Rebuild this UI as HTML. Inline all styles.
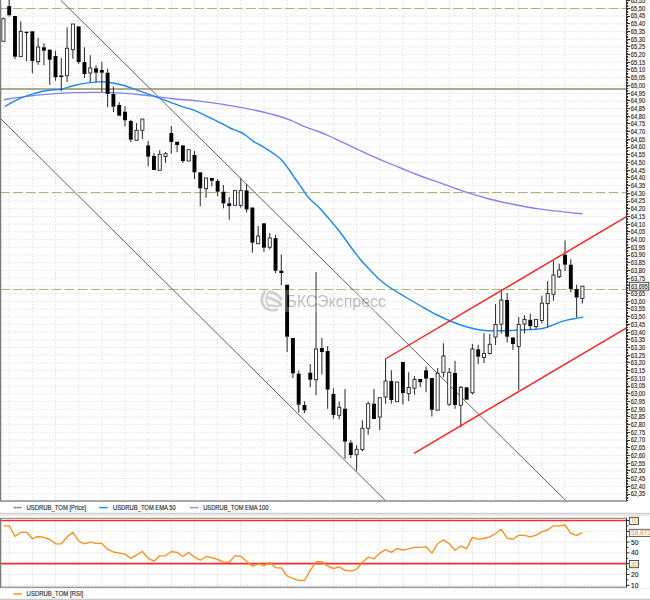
<!DOCTYPE html>
<html><head><meta charset="utf-8"><title>USDRUB_TOM</title>
<style>html,body{margin:0;padding:0;background:#fff;width:650px;height:600px;overflow:hidden;position:relative;font-family:"Liberation Sans",sans-serif}</style>
</head><body>
<svg width="650" height="600" viewBox="0 0 650 600" style="position:absolute;left:0;top:0">
<defs><clipPath id="cm"><rect x="0" y="0" width="626.5" height="501.0"/></clipPath>
<clipPath id="cr"><rect x="0" y="518" width="626.5" height="69"/></clipPath></defs>
<path d="M1 8.30H626.5M1 16.01H626.5M1 23.72H626.5M1 31.43H626.5M1 39.14H626.5M1 46.85H626.5M1 54.56H626.5M1 62.27H626.5M1 69.98H626.5M1 77.69H626.5M1 85.40H626.5M1 93.11H626.5M1 100.82H626.5M1 108.53H626.5M1 116.24H626.5M1 123.95H626.5M1 131.66H626.5M1 139.37H626.5M1 147.08H626.5M1 154.79H626.5M1 162.50H626.5M1 170.21H626.5M1 177.92H626.5M1 185.63H626.5M1 193.34H626.5M1 201.05H626.5M1 208.76H626.5M1 216.47H626.5M1 224.18H626.5M1 231.89H626.5M1 239.60H626.5M1 247.31H626.5M1 255.02H626.5M1 262.73H626.5M1 270.44H626.5M1 278.15H626.5M1 285.86H626.5M1 293.57H626.5M1 301.28H626.5M1 308.99H626.5M1 316.70H626.5M1 324.41H626.5M1 332.12H626.5M1 339.83H626.5M1 347.54H626.5M1 355.25H626.5M1 362.96H626.5M1 370.67H626.5M1 378.38H626.5M1 386.09H626.5M1 393.80H626.5M1 401.51H626.5M1 409.22H626.5M1 416.93H626.5M1 424.64H626.5M1 432.35H626.5M1 440.06H626.5M1 447.77H626.5M1 455.48H626.5M1 463.19H626.5M1 470.90H626.5M1 478.61H626.5M1 486.32H626.5M1 494.03H626.5" stroke="#e9e9e9" stroke-width="1" stroke-dasharray="2 1.2" fill="none"/>
<path d="M9.19 0V501.0M32.35 0V501.0M55.51 0V501.0M78.67 0V501.0M101.83 0V501.0M124.99 0V501.0M148.15 0V501.0M171.31 0V501.0M194.47 0V501.0M217.63 0V501.0M240.79 0V501.0M263.95 0V501.0M287.11 0V501.0M310.27 0V501.0M333.43 0V501.0M356.59 0V501.0M379.75 0V501.0M402.91 0V501.0M426.07 0V501.0M449.23 0V501.0M472.39 0V501.0M495.55 0V501.0M518.71 0V501.0M541.87 0V501.0M565.03 0V501.0" stroke="#e2e2e2" stroke-width="1" stroke-dasharray="1.6 1.6" fill="none"/>
<g clip-path="url(#cm)">
<path d="M0 8.5H626.5" stroke="#b5b176" stroke-width="1.15" stroke-dasharray="9.7 3.25" fill="none"/>
<path d="M0 89H626.5" stroke="#adab88" stroke-width="2" fill="none"/>
<path d="M0 192.5H626.5" stroke="#b5b176" stroke-width="1.15" stroke-dasharray="9.7 3.25" fill="none"/>
<path d="M0 289.5H626.5" stroke="#b5b176" stroke-width="1.15" stroke-dasharray="9.7 3.25" fill="none"/>
<path d="M60.6 0L565.7 500.5" stroke="#606060" stroke-width="1" fill="none"/>
<path d="M0 118L385.3 500.5" stroke="#606060" stroke-width="1" fill="none"/>
<path d="M3.70 99.60 C7.18 99.12 17.02 97.60 24.60 96.70 C32.18 95.80 41.00 94.87 49.20 94.20 C57.40 93.53 65.33 93.00 73.80 92.70 C82.27 92.40 92.05 92.32 100.00 92.40 C107.95 92.48 114.33 92.77 121.50 93.20 C128.67 93.63 136.53 94.33 143.00 95.00 C149.47 95.67 154.90 96.53 160.30 97.20 C165.70 97.87 169.30 98.38 175.40 99.00 C181.50 99.62 189.72 100.12 196.90 100.90 C204.08 101.68 211.68 102.70 218.50 103.70 C225.32 104.70 231.50 105.77 237.80 106.90 C244.10 108.03 249.27 108.90 256.30 110.50 C263.33 112.10 274.00 114.75 280.00 116.50 C286.00 118.25 288.20 119.32 292.30 121.00 C296.40 122.68 300.50 124.93 304.60 126.60 C308.70 128.27 312.80 129.43 316.90 131.00 C321.00 132.57 325.10 134.20 329.20 136.00 C333.30 137.80 337.40 139.87 341.50 141.80 C345.60 143.73 349.68 145.68 353.80 147.60 C357.92 149.52 362.08 151.43 366.20 153.30 C370.32 155.17 374.40 157.02 378.50 158.80 C382.60 160.58 386.70 162.30 390.80 164.00 C394.90 165.70 399.00 167.33 403.10 169.00 C407.20 170.67 411.30 172.40 415.40 174.00 C419.50 175.60 423.60 177.13 427.70 178.60 C431.80 180.07 433.85 180.62 440.00 182.80 C446.15 184.98 456.40 189.00 464.60 191.70 C472.80 194.40 481.00 196.87 489.20 199.00 C497.40 201.13 505.58 202.85 513.80 204.50 C522.02 206.15 530.30 207.68 538.50 208.90 C546.70 210.12 555.70 210.98 563.00 211.80 C570.30 212.62 579.08 213.47 582.30 213.80" stroke="#8282f2" stroke-width="1.35" fill="none" stroke-linejoin="round"/>
<path d="M4.90 106.50 C6.55 105.55 11.52 102.43 14.80 100.80 C18.08 99.17 20.92 98.05 24.60 96.70 C28.28 95.35 32.80 93.77 36.90 92.70 C41.00 91.63 45.10 90.90 49.20 90.30 C53.30 89.70 57.40 89.90 61.50 89.10 C65.60 88.30 69.68 86.50 73.80 85.50 C77.92 84.50 82.08 83.70 86.20 83.10 C90.32 82.50 94.82 82.05 98.50 81.90 C102.18 81.75 104.22 81.63 108.30 82.20 C112.38 82.77 118.08 83.95 123.00 85.30 C127.92 86.65 131.63 88.12 137.80 90.30 C143.97 92.48 152.72 95.73 160.00 98.40 C167.28 101.07 175.60 104.23 181.50 106.30 C187.40 108.37 190.78 108.95 195.40 110.80 C200.02 112.65 205.10 115.42 209.20 117.40 C213.30 119.38 216.53 120.93 220.00 122.70 C223.47 124.47 226.67 126.45 230.00 128.00 C233.33 129.55 237.22 130.67 240.00 132.00 C242.78 133.33 244.48 134.45 246.70 136.00 C248.92 137.55 250.42 139.42 253.30 141.30 C256.18 143.18 260.22 144.97 264.00 147.30 C267.78 149.63 272.88 152.97 276.00 155.30 C279.12 157.63 280.48 158.85 282.70 161.30 C284.92 163.75 287.30 167.22 289.30 170.00 C291.30 172.78 292.92 175.45 294.70 178.00 C296.48 180.55 297.78 182.13 300.00 185.30 C302.22 188.47 304.67 193.13 308.00 197.00 C311.33 200.87 316.33 204.67 320.00 208.50 C323.67 212.33 326.67 216.08 330.00 220.00 C333.33 223.92 336.67 227.67 340.00 232.00 C343.33 236.33 346.67 241.50 350.00 246.00 C353.33 250.50 356.67 255.00 360.00 259.00 C363.33 263.00 366.67 266.50 370.00 270.00 C373.33 273.50 376.67 277.08 380.00 280.00 C383.33 282.92 385.77 284.67 390.00 287.50 C394.23 290.33 400.27 293.92 405.40 297.00 C410.53 300.08 415.67 303.08 420.80 306.00 C425.93 308.92 431.08 311.92 436.20 314.50 C441.32 317.08 446.37 319.42 451.50 321.50 C456.63 323.58 461.87 325.55 467.00 327.00 C472.13 328.45 477.18 329.57 482.30 330.20 C487.42 330.83 492.58 330.77 497.70 330.80 C502.82 330.83 507.87 330.60 513.00 330.40 C518.13 330.20 524.67 329.80 528.50 329.60 C532.33 329.40 533.45 329.43 536.00 329.20 C538.55 328.97 541.22 328.82 543.80 328.20 C546.38 327.58 548.93 326.47 551.50 325.50 C554.07 324.53 556.63 323.30 559.20 322.40 C561.77 321.50 564.33 320.73 566.90 320.10 C569.47 319.47 571.88 319.07 574.60 318.60 C577.32 318.13 581.77 317.52 583.20 317.30" stroke="#1a8af0" stroke-width="1.4" fill="none" stroke-linejoin="round"/>
<path d="M3.40 17.5V18.7" stroke="#303030" stroke-width="1.05"/>
<rect x="1.85" y="18.7" width="3.1" height="22.6" fill="#fff" stroke="#222" stroke-width="0.9"/>
<path d="M9.19 -2.0V6.1" stroke="#303030" stroke-width="1.05"/>
<path d="M9.19 15.2V16.4" stroke="#303030" stroke-width="1.05"/>
<rect x="7.24" y="6.1" width="3.9" height="9.1" fill="#000"/>
<path d="M14.98 56.7V59.3" stroke="#303030" stroke-width="1.05"/>
<rect x="13.03" y="16.0" width="3.9" height="40.7" fill="#000"/>
<path d="M20.77 21.3V31.3" stroke="#303030" stroke-width="1.05"/>
<rect x="19.22" y="31.3" width="3.1" height="25.4" fill="#fff" stroke="#222" stroke-width="0.9"/>
<path d="M26.56 33.0V61.3" stroke="#303030" stroke-width="1.05"/>
<rect x="24.61" y="31.7" width="3.9" height="1.3" fill="#000"/>
<path d="M32.35 61.0V73.3" stroke="#303030" stroke-width="1.05"/>
<rect x="30.40" y="31.3" width="3.9" height="29.7" fill="#000"/>
<path d="M38.14 38.0V47.0" stroke="#303030" stroke-width="1.05"/>
<path d="M38.14 61.6V64.7" stroke="#303030" stroke-width="1.05"/>
<rect x="36.59" y="47.0" width="3.1" height="14.6" fill="#fff" stroke="#222" stroke-width="0.9"/>
<path d="M43.93 43.3V47.3" stroke="#303030" stroke-width="1.05"/>
<path d="M43.93 50.7V65.3" stroke="#303030" stroke-width="1.05"/>
<rect x="41.98" y="47.3" width="3.9" height="3.4" fill="#000"/>
<path d="M49.72 59.7V84.7" stroke="#303030" stroke-width="1.05"/>
<rect x="47.77" y="49.6" width="3.9" height="10.1" fill="#000"/>
<path d="M55.51 50.7V56.0" stroke="#303030" stroke-width="1.05"/>
<path d="M55.51 77.3V80.7" stroke="#303030" stroke-width="1.05"/>
<rect x="53.56" y="56.0" width="3.9" height="21.3" fill="#000"/>
<path d="M61.30 58.0V75.5" stroke="#303030" stroke-width="1.05"/>
<path d="M61.30 77.0V91.3" stroke="#303030" stroke-width="1.05"/>
<rect x="59.35" y="75.5" width="3.9" height="1.5" fill="#000"/>
<path d="M67.09 27.3V48.3" stroke="#303030" stroke-width="1.05"/>
<path d="M67.09 75.7V82.0" stroke="#303030" stroke-width="1.05"/>
<rect x="65.54" y="48.3" width="3.1" height="27.4" fill="#fff" stroke="#222" stroke-width="0.9"/>
<path d="M72.88 49.7V58.7" stroke="#303030" stroke-width="1.05"/>
<rect x="71.33" y="24.0" width="3.1" height="25.7" fill="#fff" stroke="#222" stroke-width="0.9"/>
<path d="M78.67 62.0V64.0" stroke="#303030" stroke-width="1.05"/>
<rect x="76.72" y="26.4" width="3.9" height="35.6" fill="#000"/>
<path d="M84.46 47.3V62.0" stroke="#303030" stroke-width="1.05"/>
<path d="M84.46 74.0V78.0" stroke="#303030" stroke-width="1.05"/>
<rect x="82.51" y="62.0" width="3.9" height="12.0" fill="#000"/>
<path d="M90.25 55.3V68.0" stroke="#303030" stroke-width="1.05"/>
<path d="M90.25 73.0V82.0" stroke="#303030" stroke-width="1.05"/>
<rect x="88.70" y="68.0" width="3.1" height="5.0" fill="#fff" stroke="#222" stroke-width="0.9"/>
<path d="M96.04 65.3V68.3" stroke="#303030" stroke-width="1.05"/>
<path d="M96.04 72.7V82.4" stroke="#303030" stroke-width="1.05"/>
<rect x="94.09" y="68.3" width="3.9" height="4.4" fill="#000"/>
<path d="M101.83 62.0V70.0" stroke="#303030" stroke-width="1.05"/>
<path d="M101.83 72.7V92.0" stroke="#303030" stroke-width="1.05"/>
<rect x="99.88" y="70.0" width="3.9" height="2.7" fill="#000"/>
<path d="M107.62 68.7V72.7" stroke="#303030" stroke-width="1.05"/>
<path d="M107.62 94.0V107.3" stroke="#303030" stroke-width="1.05"/>
<rect x="105.67" y="72.7" width="3.9" height="21.3" fill="#000"/>
<path d="M113.41 86.7V94.0" stroke="#303030" stroke-width="1.05"/>
<path d="M113.41 106.7V112.0" stroke="#303030" stroke-width="1.05"/>
<rect x="111.46" y="94.0" width="3.9" height="12.7" fill="#000"/>
<path d="M119.20 102.3V105.0" stroke="#303030" stroke-width="1.05"/>
<rect x="117.25" y="105.0" width="3.9" height="10.7" fill="#000"/>
<path d="M124.99 106.3V111.7" stroke="#303030" stroke-width="1.05"/>
<path d="M124.99 120.3V126.3" stroke="#303030" stroke-width="1.05"/>
<rect x="123.04" y="111.7" width="3.9" height="8.6" fill="#000"/>
<path d="M130.78 119.7V121.0" stroke="#303030" stroke-width="1.05"/>
<path d="M130.78 139.7V142.3" stroke="#303030" stroke-width="1.05"/>
<rect x="128.83" y="121.0" width="3.9" height="18.7" fill="#000"/>
<path d="M136.57 123.0V130.3" stroke="#303030" stroke-width="1.05"/>
<rect x="135.02" y="130.3" width="3.1" height="10.0" fill="#fff" stroke="#222" stroke-width="0.9"/>
<path d="M142.36 130.3V139.0" stroke="#303030" stroke-width="1.05"/>
<rect x="140.81" y="119.0" width="3.1" height="11.3" fill="#fff" stroke="#222" stroke-width="0.9"/>
<path d="M148.15 141.0V145.4" stroke="#303030" stroke-width="1.05"/>
<path d="M148.15 156.6V166.3" stroke="#303030" stroke-width="1.05"/>
<rect x="146.20" y="145.4" width="3.9" height="11.2" fill="#000"/>
<path d="M153.94 153.0V156.0" stroke="#303030" stroke-width="1.05"/>
<rect x="151.99" y="156.0" width="3.9" height="14.0" fill="#000"/>
<path d="M159.73 150.3V154.3" stroke="#303030" stroke-width="1.05"/>
<rect x="158.18" y="154.3" width="3.1" height="16.0" fill="#fff" stroke="#222" stroke-width="0.9"/>
<path d="M165.52 152.0V153.7" stroke="#303030" stroke-width="1.05"/>
<path d="M165.52 156.6V163.0" stroke="#303030" stroke-width="1.05"/>
<rect x="163.97" y="153.7" width="3.1" height="2.9" fill="#fff" stroke="#222" stroke-width="0.9"/>
<path d="M171.31 126.0V133.0" stroke="#303030" stroke-width="1.05"/>
<path d="M171.31 142.0V153.7" stroke="#303030" stroke-width="1.05"/>
<rect x="169.36" y="133.0" width="3.9" height="9.0" fill="#000"/>
<path d="M177.10 145.0V152.3" stroke="#303030" stroke-width="1.05"/>
<rect x="175.15" y="141.7" width="3.9" height="3.3" fill="#000"/>
<path d="M182.89 161.0V163.0" stroke="#303030" stroke-width="1.05"/>
<rect x="180.94" y="145.4" width="3.9" height="15.6" fill="#000"/>
<rect x="187.13" y="149.7" width="3.1" height="11.3" fill="#fff" stroke="#222" stroke-width="0.9"/>
<path d="M194.47 151.0V155.0" stroke="#303030" stroke-width="1.05"/>
<path d="M194.47 172.3V179.0" stroke="#303030" stroke-width="1.05"/>
<rect x="192.52" y="155.0" width="3.9" height="17.3" fill="#000"/>
<path d="M200.26 188.3V206.3" stroke="#303030" stroke-width="1.05"/>
<rect x="198.31" y="172.3" width="3.9" height="16.0" fill="#000"/>
<path d="M206.05 188.7V197.7" stroke="#303030" stroke-width="1.05"/>
<rect x="204.50" y="178.0" width="3.1" height="10.7" fill="#fff" stroke="#222" stroke-width="0.9"/>
<path d="M211.84 180.7V186.3" stroke="#303030" stroke-width="1.05"/>
<rect x="209.89" y="178.0" width="3.9" height="2.7" fill="#000"/>
<path d="M217.63 179.0V181.0" stroke="#303030" stroke-width="1.05"/>
<path d="M217.63 191.7V196.3" stroke="#303030" stroke-width="1.05"/>
<rect x="215.68" y="181.0" width="3.9" height="10.7" fill="#000"/>
<path d="M223.42 185.0V191.7" stroke="#303030" stroke-width="1.05"/>
<path d="M223.42 203.4V208.3" stroke="#303030" stroke-width="1.05"/>
<rect x="221.47" y="191.7" width="3.9" height="11.7" fill="#000"/>
<path d="M229.21 197.0V203.3" stroke="#303030" stroke-width="1.05"/>
<path d="M229.21 206.0V219.7" stroke="#303030" stroke-width="1.05"/>
<rect x="227.26" y="203.3" width="3.9" height="2.7" fill="#000"/>
<rect x="233.45" y="190.6" width="3.1" height="14.7" fill="#fff" stroke="#222" stroke-width="0.9"/>
<path d="M240.79 178.3V190.6" stroke="#303030" stroke-width="1.05"/>
<path d="M240.79 205.3V207.7" stroke="#303030" stroke-width="1.05"/>
<rect x="239.24" y="190.6" width="3.1" height="14.7" fill="#fff" stroke="#222" stroke-width="0.9"/>
<path d="M246.58 184.3V190.3" stroke="#303030" stroke-width="1.05"/>
<path d="M246.58 209.5V212.5" stroke="#303030" stroke-width="1.05"/>
<rect x="244.63" y="190.3" width="3.9" height="19.2" fill="#000"/>
<path d="M252.37 242.7V252.7" stroke="#303030" stroke-width="1.05"/>
<rect x="250.42" y="207.5" width="3.9" height="35.2" fill="#000"/>
<path d="M258.16 226.0V236.0" stroke="#303030" stroke-width="1.05"/>
<rect x="256.61" y="236.0" width="3.1" height="7.7" fill="#fff" stroke="#222" stroke-width="0.9"/>
<path d="M263.95 247.7V252.0" stroke="#303030" stroke-width="1.05"/>
<rect x="262.00" y="223.3" width="3.9" height="24.4" fill="#000"/>
<path d="M269.74 233.0V238.0" stroke="#303030" stroke-width="1.05"/>
<path d="M269.74 247.3V249.6" stroke="#303030" stroke-width="1.05"/>
<rect x="268.19" y="238.0" width="3.1" height="9.3" fill="#fff" stroke="#222" stroke-width="0.9"/>
<path d="M275.53 234.7V238.0" stroke="#303030" stroke-width="1.05"/>
<path d="M275.53 270.7V273.3" stroke="#303030" stroke-width="1.05"/>
<rect x="273.58" y="238.0" width="3.9" height="32.7" fill="#000"/>
<path d="M281.32 254.4V270.7" stroke="#303030" stroke-width="1.05"/>
<path d="M281.32 273.0V285.3" stroke="#303030" stroke-width="1.05"/>
<rect x="279.37" y="270.7" width="3.9" height="2.3" fill="#000"/>
<path d="M287.11 336.7V352.0" stroke="#303030" stroke-width="1.05"/>
<rect x="285.16" y="284.7" width="3.9" height="52.0" fill="#000"/>
<path d="M292.90 373.3V378.0" stroke="#303030" stroke-width="1.05"/>
<rect x="290.95" y="338.0" width="3.9" height="35.3" fill="#000"/>
<path d="M298.69 370.4V373.6" stroke="#303030" stroke-width="1.05"/>
<path d="M298.69 404.7V412.7" stroke="#303030" stroke-width="1.05"/>
<rect x="296.74" y="373.6" width="3.9" height="31.1" fill="#000"/>
<path d="M304.48 401.3V405.0" stroke="#303030" stroke-width="1.05"/>
<path d="M304.48 410.4V413.0" stroke="#303030" stroke-width="1.05"/>
<rect x="302.53" y="405.0" width="3.9" height="5.4" fill="#000"/>
<path d="M310.27 364.0V372.7" stroke="#303030" stroke-width="1.05"/>
<path d="M310.27 379.7V387.3" stroke="#303030" stroke-width="1.05"/>
<rect x="308.32" y="372.7" width="3.9" height="7.0" fill="#000"/>
<path d="M316.06 272.0V349.0" stroke="#303030" stroke-width="1.05"/>
<path d="M316.06 379.7V395.3" stroke="#303030" stroke-width="1.05"/>
<rect x="314.51" y="349.0" width="3.1" height="30.7" fill="#fff" stroke="#222" stroke-width="0.9"/>
<path d="M321.85 338.0V348.0" stroke="#303030" stroke-width="1.05"/>
<path d="M321.85 352.0V374.4" stroke="#303030" stroke-width="1.05"/>
<rect x="319.90" y="348.0" width="3.9" height="4.0" fill="#000"/>
<path d="M327.64 346.0V351.0" stroke="#303030" stroke-width="1.05"/>
<path d="M327.64 389.6V408.7" stroke="#303030" stroke-width="1.05"/>
<rect x="325.69" y="351.0" width="3.9" height="38.6" fill="#000"/>
<path d="M333.43 388.3V394.0" stroke="#303030" stroke-width="1.05"/>
<path d="M333.43 415.0V418.7" stroke="#303030" stroke-width="1.05"/>
<rect x="331.48" y="394.0" width="3.9" height="21.0" fill="#000"/>
<path d="M339.22 401.6V407.3" stroke="#303030" stroke-width="1.05"/>
<path d="M339.22 415.3V419.3" stroke="#303030" stroke-width="1.05"/>
<rect x="337.67" y="407.3" width="3.1" height="8.0" fill="#fff" stroke="#222" stroke-width="0.9"/>
<path d="M345.01 389.0V408.7" stroke="#303030" stroke-width="1.05"/>
<path d="M345.01 441.6V458.7" stroke="#303030" stroke-width="1.05"/>
<rect x="343.06" y="408.7" width="3.9" height="32.9" fill="#000"/>
<path d="M350.80 440.3V442.7" stroke="#303030" stroke-width="1.05"/>
<path d="M350.80 455.0V458.0" stroke="#303030" stroke-width="1.05"/>
<rect x="348.85" y="442.7" width="3.9" height="12.3" fill="#000"/>
<path d="M356.59 445.3V449.3" stroke="#303030" stroke-width="1.05"/>
<path d="M356.59 454.7V470.7" stroke="#303030" stroke-width="1.05"/>
<rect x="355.04" y="449.3" width="3.1" height="5.4" fill="#fff" stroke="#222" stroke-width="0.9"/>
<path d="M362.38 420.3V428.3" stroke="#303030" stroke-width="1.05"/>
<path d="M362.38 449.6V451.3" stroke="#303030" stroke-width="1.05"/>
<rect x="360.83" y="428.3" width="3.1" height="21.3" fill="#fff" stroke="#222" stroke-width="0.9"/>
<path d="M368.17 401.6V403.7" stroke="#303030" stroke-width="1.05"/>
<path d="M368.17 428.3V434.7" stroke="#303030" stroke-width="1.05"/>
<rect x="366.62" y="403.7" width="3.1" height="24.6" fill="#fff" stroke="#222" stroke-width="0.9"/>
<path d="M373.96 389.0V403.7" stroke="#303030" stroke-width="1.05"/>
<rect x="372.01" y="403.7" width="3.9" height="15.3" fill="#000"/>
<path d="M379.75 417.0V430.0" stroke="#303030" stroke-width="1.05"/>
<rect x="378.20" y="397.7" width="3.1" height="19.3" fill="#fff" stroke="#222" stroke-width="0.9"/>
<path d="M385.54 359.0V381.0" stroke="#303030" stroke-width="1.05"/>
<path d="M385.54 397.0V403.7" stroke="#303030" stroke-width="1.05"/>
<rect x="383.99" y="381.0" width="3.1" height="16.0" fill="#fff" stroke="#222" stroke-width="0.9"/>
<path d="M391.33 370.3V381.0" stroke="#303030" stroke-width="1.05"/>
<path d="M391.33 400.0V403.7" stroke="#303030" stroke-width="1.05"/>
<rect x="389.38" y="381.0" width="3.9" height="19.0" fill="#000"/>
<rect x="395.57" y="382.0" width="3.1" height="19.7" fill="#fff" stroke="#222" stroke-width="0.9"/>
<path d="M402.91 393.0V404.5" stroke="#303030" stroke-width="1.05"/>
<rect x="400.96" y="362.0" width="3.9" height="31.0" fill="#000"/>
<path d="M408.70 372.3V387.4" stroke="#303030" stroke-width="1.05"/>
<path d="M408.70 393.5V401.0" stroke="#303030" stroke-width="1.05"/>
<rect x="407.15" y="387.4" width="3.1" height="6.1" fill="#fff" stroke="#222" stroke-width="0.9"/>
<path d="M414.49 376.0V379.4" stroke="#303030" stroke-width="1.05"/>
<path d="M414.49 388.2V394.7" stroke="#303030" stroke-width="1.05"/>
<rect x="412.94" y="379.4" width="3.1" height="8.8" fill="#fff" stroke="#222" stroke-width="0.9"/>
<path d="M420.28 382.3V387.0" stroke="#303030" stroke-width="1.05"/>
<rect x="418.33" y="379.0" width="3.9" height="3.3" fill="#000"/>
<path d="M426.07 366.6V370.3" stroke="#303030" stroke-width="1.05"/>
<path d="M426.07 378.6V392.2" stroke="#303030" stroke-width="1.05"/>
<rect x="424.12" y="370.3" width="3.9" height="8.3" fill="#000"/>
<path d="M431.86 409.8V416.5" stroke="#303030" stroke-width="1.05"/>
<rect x="429.91" y="378.0" width="3.9" height="31.8" fill="#000"/>
<path d="M437.65 368.0V373.2" stroke="#303030" stroke-width="1.05"/>
<rect x="436.10" y="373.2" width="3.1" height="37.0" fill="#fff" stroke="#222" stroke-width="0.9"/>
<path d="M443.44 343.3V356.0" stroke="#303030" stroke-width="1.05"/>
<path d="M443.44 372.3V377.3" stroke="#303030" stroke-width="1.05"/>
<rect x="441.89" y="356.0" width="3.1" height="16.3" fill="#fff" stroke="#222" stroke-width="0.9"/>
<path d="M449.23 368.0V372.3" stroke="#303030" stroke-width="1.05"/>
<path d="M449.23 404.3V406.0" stroke="#303030" stroke-width="1.05"/>
<rect x="447.68" y="372.3" width="3.1" height="32.0" fill="#fff" stroke="#222" stroke-width="0.9"/>
<path d="M455.02 360.7V373.0" stroke="#303030" stroke-width="1.05"/>
<path d="M455.02 405.0V408.7" stroke="#303030" stroke-width="1.05"/>
<rect x="453.07" y="373.0" width="3.9" height="32.0" fill="#000"/>
<path d="M460.81 386.0V387.3" stroke="#303030" stroke-width="1.05"/>
<path d="M460.81 405.3V427.3" stroke="#303030" stroke-width="1.05"/>
<rect x="459.26" y="387.3" width="3.1" height="18.0" fill="#fff" stroke="#222" stroke-width="0.9"/>
<rect x="464.65" y="387.3" width="3.9" height="12.4" fill="#000"/>
<path d="M472.39 344.0V349.0" stroke="#303030" stroke-width="1.05"/>
<path d="M472.39 392.7V394.5" stroke="#303030" stroke-width="1.05"/>
<rect x="470.84" y="349.0" width="3.1" height="43.7" fill="#fff" stroke="#222" stroke-width="0.9"/>
<path d="M478.18 344.7V349.3" stroke="#303030" stroke-width="1.05"/>
<path d="M478.18 356.7V364.3" stroke="#303030" stroke-width="1.05"/>
<rect x="476.23" y="349.3" width="3.9" height="7.4" fill="#000"/>
<path d="M483.97 333.3V353.5" stroke="#303030" stroke-width="1.05"/>
<path d="M483.97 357.5V363.0" stroke="#303030" stroke-width="1.05"/>
<rect x="482.42" y="353.5" width="3.1" height="4.0" fill="#fff" stroke="#222" stroke-width="0.9"/>
<path d="M489.76 334.0V344.3" stroke="#303030" stroke-width="1.05"/>
<path d="M489.76 353.6V354.6" stroke="#303030" stroke-width="1.05"/>
<rect x="488.21" y="344.3" width="3.1" height="9.3" fill="#fff" stroke="#222" stroke-width="0.9"/>
<path d="M495.55 304.0V324.4" stroke="#303030" stroke-width="1.05"/>
<path d="M495.55 337.0V345.0" stroke="#303030" stroke-width="1.05"/>
<rect x="494.00" y="324.4" width="3.1" height="12.6" fill="#fff" stroke="#222" stroke-width="0.9"/>
<path d="M501.34 291.0V300.0" stroke="#303030" stroke-width="1.05"/>
<path d="M501.34 324.2V333.5" stroke="#303030" stroke-width="1.05"/>
<rect x="499.79" y="300.0" width="3.1" height="24.2" fill="#fff" stroke="#222" stroke-width="0.9"/>
<path d="M507.13 293.0V300.0" stroke="#303030" stroke-width="1.05"/>
<path d="M507.13 336.7V342.5" stroke="#303030" stroke-width="1.05"/>
<rect x="505.18" y="300.0" width="3.9" height="36.7" fill="#000"/>
<path d="M512.92 344.0V350.0" stroke="#303030" stroke-width="1.05"/>
<rect x="510.97" y="337.5" width="3.9" height="6.5" fill="#000"/>
<path d="M518.71 317.0V324.4" stroke="#303030" stroke-width="1.05"/>
<path d="M518.71 346.5V390.0" stroke="#303030" stroke-width="1.05"/>
<rect x="517.16" y="324.4" width="3.1" height="22.1" fill="#fff" stroke="#222" stroke-width="0.9"/>
<path d="M524.50 315.2V319.5" stroke="#303030" stroke-width="1.05"/>
<path d="M524.50 324.1V333.5" stroke="#303030" stroke-width="1.05"/>
<rect x="522.95" y="319.5" width="3.1" height="4.6" fill="#fff" stroke="#222" stroke-width="0.9"/>
<path d="M530.29 313.8V319.8" stroke="#303030" stroke-width="1.05"/>
<path d="M530.29 326.2V330.0" stroke="#303030" stroke-width="1.05"/>
<rect x="528.34" y="319.8" width="3.9" height="6.4" fill="#000"/>
<path d="M536.08 326.6V328.8" stroke="#303030" stroke-width="1.05"/>
<rect x="534.53" y="319.4" width="3.1" height="7.2" fill="#fff" stroke="#222" stroke-width="0.9"/>
<path d="M541.87 295.8V303.2" stroke="#303030" stroke-width="1.05"/>
<path d="M541.87 320.5V323.2" stroke="#303030" stroke-width="1.05"/>
<rect x="540.32" y="303.2" width="3.1" height="17.3" fill="#fff" stroke="#222" stroke-width="0.9"/>
<path d="M547.66 281.0V293.4" stroke="#303030" stroke-width="1.05"/>
<path d="M547.66 303.6V327.4" stroke="#303030" stroke-width="1.05"/>
<rect x="546.11" y="293.4" width="3.1" height="10.2" fill="#fff" stroke="#222" stroke-width="0.9"/>
<path d="M553.45 260.7V275.0" stroke="#303030" stroke-width="1.05"/>
<path d="M553.45 294.3V300.7" stroke="#303030" stroke-width="1.05"/>
<rect x="551.90" y="275.0" width="3.1" height="19.3" fill="#fff" stroke="#222" stroke-width="0.9"/>
<path d="M559.24 263.7V270.0" stroke="#303030" stroke-width="1.05"/>
<path d="M559.24 276.7V278.0" stroke="#303030" stroke-width="1.05"/>
<rect x="557.69" y="270.0" width="3.1" height="6.7" fill="#fff" stroke="#222" stroke-width="0.9"/>
<path d="M565.03 240.5V254.7" stroke="#303030" stroke-width="1.05"/>
<path d="M565.03 264.7V271.3" stroke="#303030" stroke-width="1.05"/>
<rect x="563.08" y="254.7" width="3.9" height="10.0" fill="#000"/>
<path d="M570.82 259.3V264.7" stroke="#303030" stroke-width="1.05"/>
<path d="M570.82 289.0V292.3" stroke="#303030" stroke-width="1.05"/>
<rect x="568.87" y="264.7" width="3.9" height="24.3" fill="#000"/>
<path d="M576.61 284.8V289.0" stroke="#303030" stroke-width="1.05"/>
<path d="M576.61 297.5V317.5" stroke="#303030" stroke-width="1.05"/>
<rect x="574.66" y="289.0" width="3.9" height="8.5" fill="#000"/>
<path d="M582.40 298.5V303.5" stroke="#303030" stroke-width="1.05"/>
<rect x="580.85" y="286.2" width="3.1" height="12.3" fill="#fff" stroke="#222" stroke-width="0.9"/>
<path d="M385.3 359L626.5 216.7" stroke="#ff2020" stroke-width="1.45" fill="none"/>
<path d="M414 453.3L626.5 327.9" stroke="#ff2020" stroke-width="1.45" fill="none"/>
</g>
<defs><mask id="wm"><rect x="0" y="0" width="650" height="600" fill="#fff"/><text x="286.2" y="306.5" font-family="Liberation Sans" font-size="17" fill="#000" stroke="#000" stroke-width="0.12" textLength="99.8" lengthAdjust="spacingAndGlyphs">БКСЭкспресс</text></mask></defs>
<rect x="258" y="289.8" width="131" height="22.2" fill="#fff" opacity="0.25" mask="url(#wm)"/>
<g fill="none" stroke="#000" stroke-opacity="0.17" stroke-linecap="round">
<path d="M264.6 291.8 C260.6 296.5 260.6 304 266 308.4 C269.3 310.6 273.5 310.8 277 309.6" stroke-width="2.8"/>
<path d="M268.4 292 C265.4 296.6 265.2 302.6 269.2 306.6" stroke-width="2.2"/>
<path d="M270.8 292 C274.8 293.2 278.8 295.6 281.2 299" stroke-width="3.2"/>
<path d="M268.8 297.8 C273.2 299.2 277.6 301.2 281 304.2" stroke-width="3.2"/>
<path d="M270.4 305 C273.8 306.2 277.2 306.4 280.2 305.6" stroke-width="2.4"/>
</g>
<text x="286.2" y="306.5" font-family="Liberation Sans" font-size="17" fill="#000" fill-opacity="0.27" stroke="#000" stroke-opacity="0.27" stroke-width="0.12" textLength="99.8" lengthAdjust="spacingAndGlyphs">БКСЭкспресс</text>
<path d="M0.6 0V501.0" stroke="#7a7a7a" stroke-width="1.3"/>
<path d="M0 501.0H627.0" stroke="#8a8a8a" stroke-width="1.3"/>
<path d="M626.5 0V501.0" stroke="#333" stroke-width="1"/>
<path d="M626.5 0.50h3.6M626.5 2.50h1.7M626.5 3.50h1.7M626.5 5.50h1.7M626.5 6.50h1.7M626.5 8.50h3.6M626.5 9.50h1.7M626.5 11.50h1.7M626.5 12.50h1.7M626.5 14.50h1.7M626.5 16.50h3.6M626.5 17.50h1.7M626.5 19.50h1.7M626.5 20.50h1.7M626.5 22.50h1.7M626.5 23.50h3.6M626.5 25.50h1.7M626.5 26.50h1.7M626.5 28.50h1.7M626.5 29.50h1.7M626.5 31.50h3.6M626.5 32.50h1.7M626.5 34.50h1.7M626.5 36.50h1.7M626.5 37.50h1.7M626.5 39.50h3.6M626.5 40.50h1.7M626.5 42.50h1.7M626.5 43.50h1.7M626.5 45.50h1.7M626.5 46.50h3.6M626.5 48.50h1.7M626.5 49.50h1.7M626.5 51.50h1.7M626.5 53.50h1.7M626.5 54.50h3.6M626.5 56.50h1.7M626.5 57.50h1.7M626.5 59.50h1.7M626.5 60.50h1.7M626.5 62.50h3.6M626.5 63.50h1.7M626.5 65.50h1.7M626.5 66.50h1.7M626.5 68.50h1.7M626.5 69.50h3.6M626.5 71.50h1.7M626.5 73.50h1.7M626.5 74.50h1.7M626.5 76.50h1.7M626.5 77.50h3.6M626.5 79.50h1.7M626.5 80.50h1.7M626.5 82.50h1.7M626.5 83.50h1.7M626.5 85.50h3.6M626.5 86.50h1.7M626.5 88.50h1.7M626.5 90.50h1.7M626.5 91.50h1.7M626.5 93.50h3.6M626.5 94.50h1.7M626.5 96.50h1.7M626.5 97.50h1.7M626.5 99.50h1.7M626.5 100.50h3.6M626.5 102.50h1.7M626.5 103.50h1.7M626.5 105.50h1.7M626.5 106.50h1.7M626.5 108.50h3.6M626.5 110.50h1.7M626.5 111.50h1.7M626.5 113.50h1.7M626.5 114.50h1.7M626.5 116.50h3.6M626.5 117.50h1.7M626.5 119.50h1.7M626.5 120.50h1.7M626.5 122.50h1.7M626.5 123.50h3.6M626.5 125.50h1.7M626.5 127.50h1.7M626.5 128.50h1.7M626.5 130.50h1.7M626.5 131.50h3.6M626.5 133.50h1.7M626.5 134.50h1.7M626.5 136.50h1.7M626.5 137.50h1.7M626.5 139.50h3.6M626.5 140.50h1.7M626.5 142.50h1.7M626.5 143.50h1.7M626.5 145.50h1.7M626.5 147.50h3.6M626.5 148.50h1.7M626.5 150.50h1.7M626.5 151.50h1.7M626.5 153.50h1.7M626.5 154.50h3.6M626.5 156.50h1.7M626.5 157.50h1.7M626.5 159.50h1.7M626.5 160.50h1.7M626.5 162.50h3.6M626.5 164.50h1.7M626.5 165.50h1.7M626.5 167.50h1.7M626.5 168.50h1.7M626.5 170.50h3.6M626.5 171.50h1.7M626.5 173.50h1.7M626.5 174.50h1.7M626.5 176.50h1.7M626.5 177.50h3.6M626.5 179.50h1.7M626.5 181.50h1.7M626.5 182.50h1.7M626.5 184.50h1.7M626.5 185.50h3.6M626.5 187.50h1.7M626.5 188.50h1.7M626.5 190.50h1.7M626.5 191.50h1.7M626.5 193.50h3.6M626.5 194.50h1.7M626.5 196.50h1.7M626.5 197.50h1.7M626.5 199.50h1.7M626.5 201.50h3.6M626.5 202.50h1.7M626.5 204.50h1.7M626.5 205.50h1.7M626.5 207.50h1.7M626.5 208.50h3.6M626.5 210.50h1.7M626.5 211.50h1.7M626.5 213.50h1.7M626.5 214.50h1.7M626.5 216.50h3.6M626.5 218.50h1.7M626.5 219.50h1.7M626.5 221.50h1.7M626.5 222.50h1.7M626.5 224.50h3.6M626.5 225.50h1.7M626.5 227.50h1.7M626.5 228.50h1.7M626.5 230.50h1.7M626.5 231.50h3.6M626.5 233.50h1.7M626.5 234.50h1.7M626.5 236.50h1.7M626.5 238.50h1.7M626.5 239.50h3.6M626.5 241.50h1.7M626.5 242.50h1.7M626.5 244.50h1.7M626.5 245.50h1.7M626.5 247.50h3.6M626.5 248.50h1.7M626.5 250.50h1.7M626.5 251.50h1.7M626.5 253.50h1.7M626.5 255.50h3.6M626.5 256.50h1.7M626.5 258.50h1.7M626.5 259.50h1.7M626.5 261.50h1.7M626.5 262.50h3.6M626.5 264.50h1.7M626.5 265.50h1.7M626.5 267.50h1.7M626.5 268.50h1.7M626.5 270.50h3.6M626.5 271.50h1.7M626.5 273.50h1.7M626.5 275.50h1.7M626.5 276.50h1.7M626.5 278.50h3.6M626.5 279.50h1.7M626.5 281.50h1.7M626.5 282.50h1.7M626.5 284.50h1.7M626.5 285.50h3.6M626.5 287.50h1.7M626.5 288.50h1.7M626.5 290.50h1.7M626.5 292.50h1.7M626.5 293.50h3.6M626.5 295.50h1.7M626.5 296.50h1.7M626.5 298.50h1.7M626.5 299.50h1.7M626.5 301.50h3.6M626.5 302.50h1.7M626.5 304.50h1.7M626.5 305.50h1.7M626.5 307.50h1.7M626.5 308.50h3.6M626.5 310.50h1.7M626.5 312.50h1.7M626.5 313.50h1.7M626.5 315.50h1.7M626.5 316.50h3.6M626.5 318.50h1.7M626.5 319.50h1.7M626.5 321.50h1.7M626.5 322.50h1.7M626.5 324.50h3.6M626.5 325.50h1.7M626.5 327.50h1.7M626.5 329.50h1.7M626.5 330.50h1.7M626.5 332.50h3.6M626.5 333.50h1.7M626.5 335.50h1.7M626.5 336.50h1.7M626.5 338.50h1.7M626.5 339.50h3.6M626.5 341.50h1.7M626.5 342.50h1.7M626.5 344.50h1.7M626.5 345.50h1.7M626.5 347.50h3.6M626.5 349.50h1.7M626.5 350.50h1.7M626.5 352.50h1.7M626.5 353.50h1.7M626.5 355.50h3.6M626.5 356.50h1.7M626.5 358.50h1.7M626.5 359.50h1.7M626.5 361.50h1.7M626.5 362.50h3.6M626.5 364.50h1.7M626.5 366.50h1.7M626.5 367.50h1.7M626.5 369.50h1.7M626.5 370.50h3.6M626.5 372.50h1.7M626.5 373.50h1.7M626.5 375.50h1.7M626.5 376.50h1.7M626.5 378.50h3.6M626.5 379.50h1.7M626.5 381.50h1.7M626.5 383.50h1.7M626.5 384.50h1.7M626.5 386.50h3.6M626.5 387.50h1.7M626.5 389.50h1.7M626.5 390.50h1.7M626.5 392.50h1.7M626.5 393.50h3.6M626.5 395.50h1.7M626.5 396.50h1.7M626.5 398.50h1.7M626.5 399.50h1.7M626.5 401.50h3.6M626.5 403.50h1.7M626.5 404.50h1.7M626.5 406.50h1.7M626.5 407.50h1.7M626.5 409.50h3.6M626.5 410.50h1.7M626.5 412.50h1.7M626.5 413.50h1.7M626.5 415.50h1.7M626.5 416.50h3.6M626.5 418.50h1.7M626.5 420.50h1.7M626.5 421.50h1.7M626.5 423.50h1.7M626.5 424.50h3.6M626.5 426.50h1.7M626.5 427.50h1.7M626.5 429.50h1.7M626.5 430.50h1.7M626.5 432.50h3.6M626.5 433.50h1.7M626.5 435.50h1.7M626.5 436.50h1.7M626.5 438.50h1.7M626.5 440.50h3.6M626.5 441.50h1.7M626.5 443.50h1.7M626.5 444.50h1.7M626.5 446.50h1.7M626.5 447.50h3.6M626.5 449.50h1.7M626.5 450.50h1.7M626.5 452.50h1.7M626.5 453.50h1.7M626.5 455.50h3.6M626.5 457.50h1.7M626.5 458.50h1.7M626.5 460.50h1.7M626.5 461.50h1.7M626.5 463.50h3.6M626.5 464.50h1.7M626.5 466.50h1.7M626.5 467.50h1.7M626.5 469.50h1.7M626.5 470.50h3.6M626.5 472.50h1.7M626.5 473.50h1.7M626.5 475.50h1.7M626.5 477.50h1.7M626.5 478.50h3.6M626.5 480.50h1.7M626.5 481.50h1.7M626.5 483.50h1.7M626.5 484.50h1.7M626.5 486.50h3.6M626.5 487.50h1.7M626.5 489.50h1.7M626.5 490.50h1.7M626.5 492.50h1.7M626.5 494.50h3.6M626.5 495.50h1.7M626.5 497.50h1.7M626.5 498.50h1.7M626.5 500.50h1.7" stroke="#333" stroke-width="1"/>
<g font-family="Liberation Sans" font-size="6.8" fill="#111" stroke="#111" stroke-width="0.1">
<text x="630.8" y="2.99" textLength="14.3" lengthAdjust="spacingAndGlyphs">65,55</text>
<text x="630.8" y="10.70" textLength="14.3" lengthAdjust="spacingAndGlyphs">65,50</text>
<text x="630.8" y="18.41" textLength="14.3" lengthAdjust="spacingAndGlyphs">65,45</text>
<text x="630.8" y="26.12" textLength="14.3" lengthAdjust="spacingAndGlyphs">65,40</text>
<text x="630.8" y="33.83" textLength="14.3" lengthAdjust="spacingAndGlyphs">65,35</text>
<text x="630.8" y="41.54" textLength="14.3" lengthAdjust="spacingAndGlyphs">65,30</text>
<text x="630.8" y="49.25" textLength="14.3" lengthAdjust="spacingAndGlyphs">65,25</text>
<text x="630.8" y="56.96" textLength="14.3" lengthAdjust="spacingAndGlyphs">65,20</text>
<text x="630.8" y="64.67" textLength="14.3" lengthAdjust="spacingAndGlyphs">65,15</text>
<text x="630.8" y="72.38" textLength="14.3" lengthAdjust="spacingAndGlyphs">65,10</text>
<text x="630.8" y="80.09" textLength="14.3" lengthAdjust="spacingAndGlyphs">65,05</text>
<text x="630.8" y="87.80" textLength="14.3" lengthAdjust="spacingAndGlyphs">65,00</text>
<text x="630.8" y="95.51" textLength="14.3" lengthAdjust="spacingAndGlyphs">64,95</text>
<text x="630.8" y="103.22" textLength="14.3" lengthAdjust="spacingAndGlyphs">64,90</text>
<text x="630.8" y="110.93" textLength="14.3" lengthAdjust="spacingAndGlyphs">64,85</text>
<text x="630.8" y="118.64" textLength="14.3" lengthAdjust="spacingAndGlyphs">64,80</text>
<text x="630.8" y="126.35" textLength="14.3" lengthAdjust="spacingAndGlyphs">64,75</text>
<text x="630.8" y="134.06" textLength="14.3" lengthAdjust="spacingAndGlyphs">64,70</text>
<text x="630.8" y="141.77" textLength="14.3" lengthAdjust="spacingAndGlyphs">64,65</text>
<text x="630.8" y="149.48" textLength="14.3" lengthAdjust="spacingAndGlyphs">64,60</text>
<text x="630.8" y="157.19" textLength="14.3" lengthAdjust="spacingAndGlyphs">64,55</text>
<text x="630.8" y="164.90" textLength="14.3" lengthAdjust="spacingAndGlyphs">64,50</text>
<text x="630.8" y="172.61" textLength="14.3" lengthAdjust="spacingAndGlyphs">64,45</text>
<text x="630.8" y="180.32" textLength="14.3" lengthAdjust="spacingAndGlyphs">64,40</text>
<text x="630.8" y="188.03" textLength="14.3" lengthAdjust="spacingAndGlyphs">64,35</text>
<text x="630.8" y="195.74" textLength="14.3" lengthAdjust="spacingAndGlyphs">64,30</text>
<text x="630.8" y="203.45" textLength="14.3" lengthAdjust="spacingAndGlyphs">64,25</text>
<text x="630.8" y="211.16" textLength="14.3" lengthAdjust="spacingAndGlyphs">64,20</text>
<text x="630.8" y="218.87" textLength="14.3" lengthAdjust="spacingAndGlyphs">64,15</text>
<text x="630.8" y="226.58" textLength="14.3" lengthAdjust="spacingAndGlyphs">64,10</text>
<text x="630.8" y="234.29" textLength="14.3" lengthAdjust="spacingAndGlyphs">64,05</text>
<text x="630.8" y="242.00" textLength="14.3" lengthAdjust="spacingAndGlyphs">64,00</text>
<text x="630.8" y="249.71" textLength="14.3" lengthAdjust="spacingAndGlyphs">63,95</text>
<text x="630.8" y="257.42" textLength="14.3" lengthAdjust="spacingAndGlyphs">63,90</text>
<text x="630.8" y="265.13" textLength="14.3" lengthAdjust="spacingAndGlyphs">63,85</text>
<text x="630.8" y="272.84" textLength="14.3" lengthAdjust="spacingAndGlyphs">63,80</text>
<text x="630.8" y="280.55" textLength="14.3" lengthAdjust="spacingAndGlyphs">63,75</text>
<text x="630.8" y="288.26" textLength="14.3" lengthAdjust="spacingAndGlyphs">63,70</text>
<text x="630.8" y="295.97" textLength="14.3" lengthAdjust="spacingAndGlyphs">63,65</text>
<text x="630.8" y="303.68" textLength="14.3" lengthAdjust="spacingAndGlyphs">63,60</text>
<text x="630.8" y="311.39" textLength="14.3" lengthAdjust="spacingAndGlyphs">63,55</text>
<text x="630.8" y="319.10" textLength="14.3" lengthAdjust="spacingAndGlyphs">63,50</text>
<text x="630.8" y="326.81" textLength="14.3" lengthAdjust="spacingAndGlyphs">63,45</text>
<text x="630.8" y="334.52" textLength="14.3" lengthAdjust="spacingAndGlyphs">63,40</text>
<text x="630.8" y="342.23" textLength="14.3" lengthAdjust="spacingAndGlyphs">63,35</text>
<text x="630.8" y="349.94" textLength="14.3" lengthAdjust="spacingAndGlyphs">63,30</text>
<text x="630.8" y="357.65" textLength="14.3" lengthAdjust="spacingAndGlyphs">63,25</text>
<text x="630.8" y="365.36" textLength="14.3" lengthAdjust="spacingAndGlyphs">63,20</text>
<text x="630.8" y="373.07" textLength="14.3" lengthAdjust="spacingAndGlyphs">63,15</text>
<text x="630.8" y="380.78" textLength="14.3" lengthAdjust="spacingAndGlyphs">63,10</text>
<text x="630.8" y="388.49" textLength="14.3" lengthAdjust="spacingAndGlyphs">63,05</text>
<text x="630.8" y="396.20" textLength="14.3" lengthAdjust="spacingAndGlyphs">63,00</text>
<text x="630.8" y="403.91" textLength="14.3" lengthAdjust="spacingAndGlyphs">62,95</text>
<text x="630.8" y="411.62" textLength="14.3" lengthAdjust="spacingAndGlyphs">62,90</text>
<text x="630.8" y="419.33" textLength="14.3" lengthAdjust="spacingAndGlyphs">62,85</text>
<text x="630.8" y="427.04" textLength="14.3" lengthAdjust="spacingAndGlyphs">62,80</text>
<text x="630.8" y="434.75" textLength="14.3" lengthAdjust="spacingAndGlyphs">62,75</text>
<text x="630.8" y="442.46" textLength="14.3" lengthAdjust="spacingAndGlyphs">62,70</text>
<text x="630.8" y="450.17" textLength="14.3" lengthAdjust="spacingAndGlyphs">62,65</text>
<text x="630.8" y="457.88" textLength="14.3" lengthAdjust="spacingAndGlyphs">62,60</text>
<text x="630.8" y="465.59" textLength="14.3" lengthAdjust="spacingAndGlyphs">62,55</text>
<text x="630.8" y="473.30" textLength="14.3" lengthAdjust="spacingAndGlyphs">62,50</text>
<text x="630.8" y="481.01" textLength="14.3" lengthAdjust="spacingAndGlyphs">62,45</text>
<text x="630.8" y="488.72" textLength="14.3" lengthAdjust="spacingAndGlyphs">62,40</text>
<text x="630.8" y="496.43" textLength="14.3" lengthAdjust="spacingAndGlyphs">62,35</text>
</g>
<rect x="629.4" y="282.3" width="19.4" height="7.9" fill="#fff" stroke="#333" stroke-width="0.9"/>
<text x="631" y="288.7" font-family="Liberation Sans" font-size="6.8" fill="#111" stroke="#111" stroke-width="0.1" textLength="16.8" lengthAdjust="spacingAndGlyphs">63,695</text>
<path d="M0 513.3H650" stroke="#c4c4c4" stroke-width="1"/>
<path d="M0 515.1H650" stroke="#e2e2e2" stroke-width="1.5"/>
<g font-family="Liberation Sans" font-size="6.5" fill="#222" stroke="#222" stroke-width="0.12">
<path d="M13.5 507.6H21.7" stroke="#8a8a8a" stroke-width="1.4"/>
<text x="26.6" y="509.6" textLength="59.6" lengthAdjust="spacingAndGlyphs">USDRUB_TOM [Price]</text>
<path d="M99.2 507.6H107.7" stroke="#1a8af0" stroke-width="1.4"/>
<text x="113" y="509.6" textLength="62.8" lengthAdjust="spacingAndGlyphs">USDRUB_TOM EMA 50</text>
<path d="M190 507.6H198.3" stroke="#8c8cf2" stroke-width="1.4"/>
<text x="203.2" y="509.6" textLength="65.3" lengthAdjust="spacingAndGlyphs">USDRUB_TOM EMA 100</text>
</g>
<path d="M1 531.30H626.5M1 542.10H626.5M1 552.90H626.5M1 574.50H626.5M1 585.30H626.5" stroke="#e6e6e6" stroke-width="1" stroke-dasharray="2.1 1" fill="none"/>
<path d="M9.19 518.2V587.2M32.35 518.2V587.2M55.51 518.2V587.2M78.67 518.2V587.2M101.83 518.2V587.2M124.99 518.2V587.2M148.15 518.2V587.2M171.31 518.2V587.2M194.47 518.2V587.2M217.63 518.2V587.2M240.79 518.2V587.2M263.95 518.2V587.2M287.11 518.2V587.2M310.27 518.2V587.2M333.43 518.2V587.2M356.59 518.2V587.2M379.75 518.2V587.2M402.91 518.2V587.2M426.07 518.2V587.2M449.23 518.2V587.2M472.39 518.2V587.2M495.55 518.2V587.2M518.71 518.2V587.2M541.87 518.2V587.2M565.03 518.2V587.2" stroke="#e6e6e6" stroke-width="1" stroke-dasharray="2.1 1" fill="none"/>
<path d="M0 520.5H626.5" stroke="#ff2a2a" stroke-width="1.5"/>
<path d="M0 563.7H626.5" stroke="#ff2a2a" stroke-width="1.8"/>
<path d="M3.4 525.8 L9.2 525.8 L15.0 536.5 L20.8 532.3 L26.6 532.3 L32.4 538.8 L38.1 536.5 L43.9 537.4 L49.7 539.5 L55.5 543.8 L61.3 543.8 L67.1 536.9 L72.9 532.3 L78.7 541.1 L84.5 543.8 L90.2 542.2 L96.0 543.4 L101.8 543.4 L107.6 549.2 L113.4 552.0 L119.2 553.1 L125.0 554.2 L130.8 558.4 L136.6 554.9 L142.4 551.5 L148.2 558.4 L153.9 561.2 L159.7 555.8 L165.5 555.8 L171.3 551.5 L177.1 552.4 L182.9 556.5 L188.7 552.4 L194.5 557.2 L200.3 560.2 L206.1 556.5 L211.8 557.7 L217.6 559.5 L223.4 561.8 L229.2 562.3 L235.0 555.6 L240.8 556.5 L246.6 561.2 L252.4 566.2 L258.2 563.9 L263.9 565.8 L269.7 562.3 L275.5 567.6 L281.3 568.0 L287.1 575.8 L292.9 578.5 L298.7 580.3 L304.5 580.5 L310.3 570.4 L316.1 561.6 L321.8 561.6 L327.6 566.2 L333.4 568.5 L339.2 566.9 L345.0 570.4 L350.8 571.1 L356.6 569.2 L362.4 562.3 L368.2 557.2 L374.0 558.8 L379.8 553.1 L385.5 549.6 L391.3 552.4 L397.1 548.5 L402.9 550.1 L408.7 548.9 L414.5 547.3 L420.3 547.3 L426.1 546.8 L431.9 553.1 L437.6 543.8 L443.4 539.9 L449.2 543.8 L455.0 550.3 L460.8 546.2 L466.6 548.5 L472.4 537.4 L478.2 539.2 L484.0 538.5 L489.8 536.9 L495.5 533.5 L501.3 529.3 L507.1 538.1 L512.9 539.2 L518.7 535.3 L524.5 535.3 L530.3 536.9 L536.1 535.1 L541.9 531.6 L547.7 530.0 L553.4 525.8 L559.2 525.8 L565.0 525.0 L570.8 533.3 L576.6 535.3 L582.4 532.6" stroke="#f7901e" stroke-width="1.35" fill="none" stroke-linejoin="round"/>
<path d="M0 518.2H627.0" stroke="#7c7c7c" stroke-width="1.1"/>
<path d="M0.6 518.2V587.2" stroke="#7a7a7a" stroke-width="1.3"/>
<path d="M0 587.2H627.0" stroke="#5c5c5c" stroke-width="1.1"/>
<path d="M0 588.3H650" stroke="#ececec" stroke-width="1"/>
<path d="M0 599.4H650" stroke="#c8c8c8" stroke-width="1.3"/>
<path d="M626.5 518.2V587.2" stroke="#333" stroke-width="1"/>
<path d="M626.5 585.30h3.0M626.5 579.90h1.8M626.5 574.50h3.0M626.5 569.10h1.8M626.5 563.70h3.0M626.5 558.30h1.8M626.5 552.90h3.0M626.5 547.50h1.8M626.5 542.10h3.0M626.5 536.70h1.8M626.5 531.30h3.0M626.5 525.90h1.8M626.5 520.50h3.0" stroke="#262626" stroke-width="1"/>
<g font-family="Liberation Sans" font-size="6.8" fill="#111" stroke="#111" stroke-width="0.1">
<text x="631" y="544.50" textLength="7.4" lengthAdjust="spacingAndGlyphs">50</text>
<text x="631" y="555.30" textLength="7.4" lengthAdjust="spacingAndGlyphs">40</text>
<text x="631" y="576.90" textLength="7.4" lengthAdjust="spacingAndGlyphs">20</text>
<text x="631" y="587.70" textLength="7.4" lengthAdjust="spacingAndGlyphs">10</text>
</g>
<rect x="629.4" y="517.3" width="9.2" height="7.2" fill="#fff" stroke="#444" stroke-width="0.9"/>
<text x="630.8" y="523.30" font-family="Liberation Sans" font-size="6.8" fill="#f7901e" opacity="0.99" textLength="7" lengthAdjust="spacingAndGlyphs">70</text>
<rect x="629.4" y="560.5" width="9.2" height="7.2" fill="#fff" stroke="#444" stroke-width="0.9"/>
<text x="630.8" y="566.50" font-family="Liberation Sans" font-size="6.8" fill="#f7901e" opacity="0.99" textLength="7" lengthAdjust="spacingAndGlyphs">30</text>
<rect x="629.4" y="529.3" width="30" height="7.2" fill="#fff" stroke="#555" stroke-width="0.9"/>
<text x="631" y="535.32" font-family="Liberation Sans" font-size="6.8" fill="#f7901e" opacity="0.99" textLength="20" lengthAdjust="spacingAndGlyphs">58,873</text>
<path d="M13.4 594H21.9" stroke="#ff9a3a" stroke-width="1.6"/>
<text x="26.6" y="596" font-family="Liberation Sans" font-size="6.5" fill="#222" stroke="#222" stroke-width="0.12" textLength="56.6" lengthAdjust="spacingAndGlyphs">USDRUB_TOM [RSI]</text>
</svg>
</body></html>
